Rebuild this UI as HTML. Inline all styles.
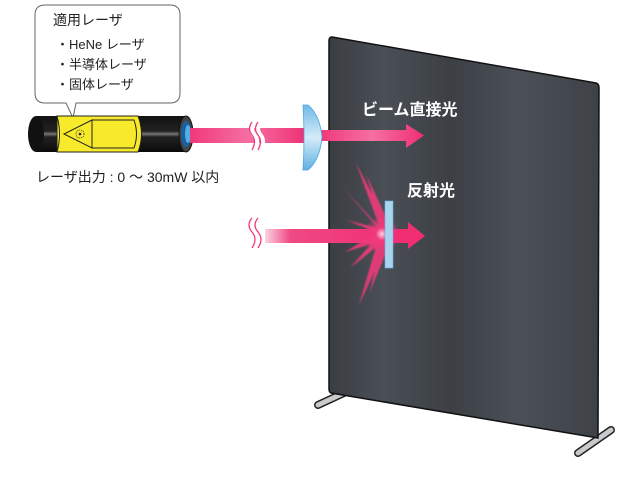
<!DOCTYPE html>
<html><head><meta charset="utf-8"><style>
html,body{margin:0;padding:0;background:#fff;width:624px;height:482px;overflow:hidden}
svg{display:block}
text{font-family:"Liberation Sans","Noto Sans CJK JP",sans-serif}
</style></head><body>
<svg width="624" height="482" viewBox="0 0 624 482" xmlns="http://www.w3.org/2000/svg">
<defs>
<linearGradient id="pan" x1="0" x2="1" y1="0" y2="0">
<stop offset="0" stop-color="#3a3d42"/><stop offset="0.2" stop-color="#4a4f56"/><stop offset="0.45" stop-color="#3c4045"/><stop offset="0.7" stop-color="#4b5058"/><stop offset="1" stop-color="#3e4247"/>
</linearGradient>
<linearGradient id="beam" x1="0" x2="1">
<stop offset="0" stop-color="#f0397a"/><stop offset="0.5" stop-color="#f56fa3"/><stop offset="1" stop-color="#ef2f72"/>
</linearGradient>
<linearGradient id="beam2" x1="0" x2="1">
<stop offset="0" stop-color="#fbd3e3"/><stop offset="0.2" stop-color="#f04a85"/><stop offset="1" stop-color="#ef2f72"/>
</linearGradient>
<linearGradient id="lens" x1="0" x2="0" y1="0" y2="1">
<stop offset="0" stop-color="#6fb9e6"/><stop offset="0.5" stop-color="#d6ecf8"/><stop offset="1" stop-color="#5fb0e2"/>
</linearGradient>
<radialGradient id="burst"><stop offset="0" stop-color="#ffd0e2"/><stop offset="0.35" stop-color="#f03a7a"/><stop offset="1" stop-color="#f03a7a" stop-opacity="0"/></radialGradient>
<linearGradient id="tube" x1="0" x2="0" y1="0" y2="1">
<stop offset="0" stop-color="#111"/><stop offset="0.42" stop-color="#222"/><stop offset="0.5" stop-color="#777"/><stop offset="0.58" stop-color="#222"/><stop offset="1" stop-color="#0a0a0a"/>
</linearGradient>
<filter id="bl" x="-20%" y="-20%" width="140%" height="140%"><feGaussianBlur stdDeviation="0.9"/></filter>
</defs>
<path d="M346,392 L318,405" stroke="#222" stroke-width="8" stroke-linecap="round"/>
<path d="M346,392 L318,405" stroke="#c8cacc" stroke-width="5" stroke-linecap="round"/>
<path d="M611,430 L578,453" stroke="#222" stroke-width="8" stroke-linecap="round"/>
<path d="M611,430 L578,453" stroke="#c8cacc" stroke-width="5" stroke-linecap="round"/>
<path d="M332,37 L596,83 Q599,84 599,88 L598,438 L331,393 Q329,392 329,389 L329,41 Q329,37 332,37 Z" fill="url(#pan)" stroke="#111" stroke-width="1.5"/>
<path d="M45,5 H170 Q180,5 180,15 V93 Q180,103 170,103 H76 L73,118 L66,103 H45 Q35,103 35,93 V15 Q35,5 45,5 Z" fill="#fff" stroke="#666" stroke-width="1"/>
<text x="53" y="25" font-size="14" fill="#222">適用レーザ</text>
<text x="56" y="49" font-size="13" fill="#222">・HeNe レーザ</text>
<text x="56" y="69" font-size="13" fill="#222">・半導体レーザ</text>
<text x="56" y="89" font-size="13" fill="#222">・固体レーザ</text>
<rect x="36" y="116" width="150" height="36" fill="url(#tube)"/>
<ellipse cx="36" cy="134" rx="8" ry="18" fill="#111"/>
<path d="M57,116 H138 Q145,134 138,152 H57 Z" fill="#f6ea2a" stroke="#222" stroke-width="1"/>
<path d="M57,116 Q62,134 57,152" fill="none" stroke="#222" stroke-width="1"/>
<path d="M92,120 H134 Q139,134 134,148 H92" fill="none" stroke="#222" stroke-width="1"/>
<path d="M92,120 L64,134 L92,148 Z" fill="none" stroke="#222" stroke-width="1"/>
<circle cx="80" cy="134" r="4" fill="none" stroke="#222" stroke-width="0.8" stroke-dasharray="1 1"/>
<circle cx="80" cy="134" r="1.3" fill="#222"/>
<ellipse cx="186" cy="134" rx="7" ry="18" fill="#444" stroke="#111"/>
<ellipse cx="186" cy="134" rx="5" ry="13" fill="#1a5fa0"/>
<ellipse cx="188" cy="134" rx="3" ry="9" fill="#4fb0e8"/>
<rect x="190" y="128" width="117" height="15" fill="url(#beam)"/>
<path d="M254,123 Q249,129 254,135 Q259,141 254,149 M260,123 Q255,129 260,135 Q265,141 260,149" stroke="#fff" stroke-width="5" fill="none"/>
<path d="M252,122 Q247,129 252,135 Q257,141 252,150 M258,122 Q253,129 258,135 Q263,141 258,150" stroke="#f03a7a" stroke-width="1.3" fill="none"/>
<path d="M320,130 H406 V124 L424,135.5 L406,148 V141 H320 Z" fill="url(#beam)"/>
<path d="M303,105 H308 Q320,115 322,137 Q320,160 308,170 H303 Q305,137 303,105 Z" fill="url(#lens)" stroke="#4aa3dc" stroke-width="0.8"/>
<text x="362" y="115" font-size="16" font-weight="bold" fill="#fff">ビーム直接光</text>
<rect x="265" y="229" width="125" height="14" fill="url(#beam2)"/>
<g fill="#f03a7a" filter="url(#bl)" opacity="0.9">
<path d="M380,228 L356,163 L392,232 Z"/>
<path d="M380,230 L343,188 L388,236 Z"/>
<path d="M382,224 L366,174 L392,230 Z"/>
<path d="M378,236 L350,268 L388,238 Z"/>
<path d="M379,236 L359,305 L390,238 Z"/>
<path d="M382,236 L370,292 L392,238 Z"/>
<path d="M378,232 L345,252 L386,240 Z"/>
<path d="M378,228 L346,220 L386,236 Z"/>
</g>
<circle cx="382" cy="234" r="18" fill="url(#burst)"/>
<path d="M390,229 H408 V222 L425,236 L408,249 V243 H390 Z" fill="#ef2f72"/>
<path d="M252,218 Q246,225 252,232 Q258,239 252,248 M258,218 Q252,225 258,232 Q264,239 258,248" stroke="#f03a7a" stroke-width="1.3" fill="none"/>
<rect x="385" y="201" width="8" height="67" fill="#a8d4f0" stroke="#6fb5e3" stroke-width="0.6"/>
<text x="407" y="196" font-size="16" font-weight="bold" fill="#fff">反射光</text>
<text x="36" y="182" font-size="14" fill="#222">レーザ出力 : 0 ～ 30mW 以内</text>
</svg>
</body></html>
